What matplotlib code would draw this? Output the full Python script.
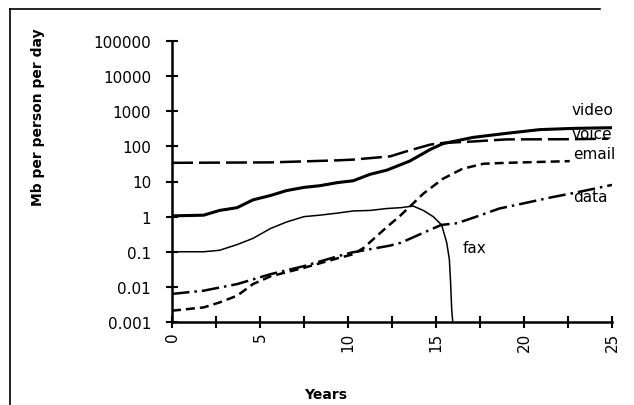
# Traffic growth per person, log scale

import matplotlib.pyplot as plt
from matplotlib.lines import Line2D
from matplotlib.ticker import FixedLocator, FixedFormatter, MultipleLocator, NullLocator

# data
video_x = [0, 1.8, 2.7, 3.7, 4.6, 5.6, 6.5, 7.5, 8.4, 9.4, 10.3, 11.25, 12.2, 13.5, 14.7, 15.4, 17.1, 19.0, 20.9, 22.8, 25]
video_y = [1.05, 1.1, 1.5, 1.8, 3.0, 4.0, 5.5, 6.8, 7.6, 9.3, 10.5, 16, 21, 38, 83, 120, 180, 235, 300, 325, 340]

voice_x = [0, 5.6, 9.4, 10.3, 12.4, 13.5, 14.7, 15.4, 17.1, 19.0, 22.6, 24.8]
voice_y = [34, 35, 40, 42, 52, 77, 113, 125, 138, 158, 160, 165]

email_x = [0, 1.8, 2.7, 3.7, 4.6, 5.6, 7.5, 9.4, 10.3, 10.9, 11.6, 12.2, 13.0, 14.3, 15.4, 16.5, 17.7, 19.0, 22.6]
email_y = [0.0021, 0.0026, 0.0036, 0.0056, 0.012, 0.02, 0.035, 0.065, 0.085, 0.13, 0.27, 0.5, 1.1, 4.6, 12, 23, 32, 34, 38]

data_x = [0, 1.8, 3.7, 5.6, 7.5, 9.4, 10.2, 12.4, 13.0, 14.3, 15.3, 16.2, 17.3, 18.6, 20.0, 21.5, 23.0, 25]
data_y = [0.0063, 0.0078, 0.012, 0.023, 0.039, 0.074, 0.095, 0.15, 0.18, 0.35, 0.58, 0.65, 1.0, 1.7, 2.4, 3.5, 4.9, 8.0]

fax_x = [0, 1.8, 2.7, 3.7, 4.6, 5.6, 6.5, 7.5, 8.4, 9.4, 10.3, 11.25, 12.2, 13.0, 13.7, 14.28, 14.84, 15.32, 15.61, 15.76, 15.83, 15.89, 15.95]
fax_y = [0.1, 0.1, 0.11, 0.16, 0.24, 0.46, 0.7, 1.0, 1.1, 1.26, 1.45, 1.5, 1.7, 1.8, 2.0, 1.5, 1.0, 0.58, 0.18, 0.06, 0.013, 0.0024, 0.001]

y_ticks = [0.001, 0.01, 0.1, 1, 10, 100, 1000, 10000, 100000]
y_tick_labels = ['0.001', '0.01', '0.1', '1', '10', '100', '1000', '10000', '100000']

# series labels: (text, x, y)
series_labels = [('video', 22.7, 850), ('voice', 22.7, 178), ('email', 22.8, 46),
                 ('data', 22.8, 2.85), ('fax', 16.5, 0.1)]

plt.rcParams['font.family'] = 'DejaVu Sans'

fig = plt.figure(figsize=(6.34, 4.06), dpi=100)
ax = fig.add_axes([172 / 634, 83 / 406, 440 / 634, 281 / 406])

ax.plot(video_x, video_y, color='black', lw=2.2)
ax.plot(voice_x, voice_y, color='black', lw=1.8, dashes=(8.4, 2.4))
ax.plot(email_x, email_y, color='black', lw=1.8, dashes=(3.6, 2))
ax.plot(data_x, data_y, color='black', lw=1.8, dashes=(7, 2, 1, 2))
ax.plot(fax_x, fax_y, color='black', lw=1.1)

for txt, x, y in series_labels:
    ax.text(x, y, txt, fontsize=11, va='baseline', ha='left')

ax.set_yscale('log')
ax.set_xlim(0, 25)
ax.set_ylim(0.001, 100000)

ax.yaxis.set_major_locator(FixedLocator(y_ticks))
ax.yaxis.set_major_formatter(FixedFormatter(y_tick_labels))
ax.yaxis.set_minor_locator(NullLocator())
ax.xaxis.set_major_locator(MultipleLocator(5))
ax.xaxis.set_minor_locator(MultipleLocator(2.5))

for s in ['top', 'right']:
    ax.spines[s].set_visible(False)
for s in ['left', 'bottom']:
    ax.spines[s].set_linewidth(1.8)

ax.tick_params(axis='both', which='both', direction='inout', length=8, width=1.5)
ax.tick_params(axis='y', labelsize=11, pad=11)
ax.tick_params(axis='x', labelsize=11, pad=3, labelrotation=90)

ax.set_ylabel('Mb per person per day', fontsize=10, fontweight='bold', va='center')
ax.yaxis.set_label_coords(-0.304, 0.733)
ax.set_xlabel('Years', fontsize=10, fontweight='bold', va='center')
ax.xaxis.set_label_coords(0.35, -0.256)

# border of the scanned figure
fig.add_artist(Line2D([10 / 634, 600 / 634], [396 / 406, 396 / 406], transform=fig.transFigure, color='black', lw=1.2))
fig.add_artist(Line2D([10 / 634, 10 / 634], [0, 396 / 406], transform=fig.transFigure, color='black', lw=1.2))

fig.savefig('out.png', dpi=100)
